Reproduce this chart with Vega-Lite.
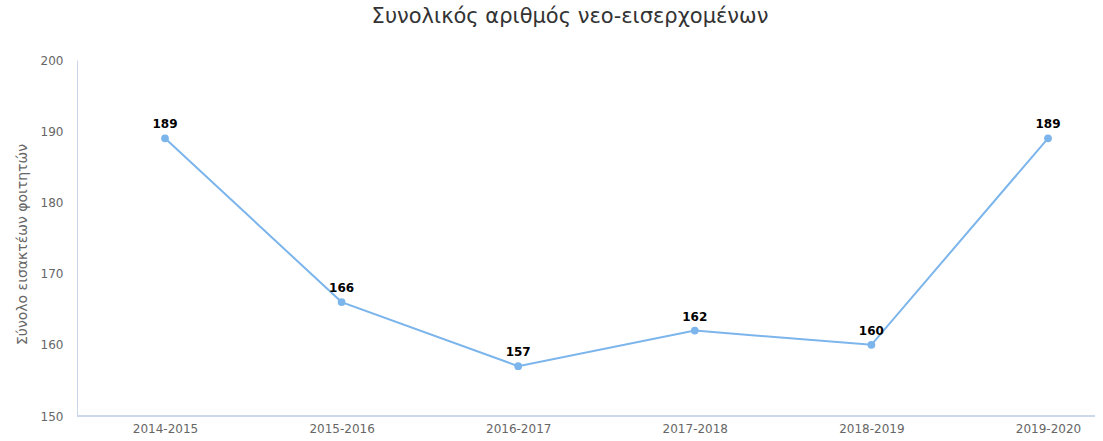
{
  "$schema": "https://vega.github.io/schema/vega-lite/v6.json",
  "width": 1018,
  "height": 356,
  "autosize": {"type": "none"},
  "padding": {"left": 77, "top": 60, "right": 8, "bottom": 25},
  "background": "white",
  "title": {
    "text": "Συνολικός αριθμός νεο-εισερχομένων",
    "font": "DejaVu Sans",
    "fontSize": 21,
    "fontWeight": "normal",
    "color": "#333333",
    "anchor": "middle",
    "dx": -16,
    "offset": 27
  },
  "config": {
    "view": {"stroke": null},
    "font": "DejaVu Sans"
  },
  "data": {
    "values": [
      {"year": "2014-2015", "value": 189},
      {"year": "2015-2016", "value": 166},
      {"year": "2016-2017", "value": 157},
      {"year": "2017-2018", "value": 162},
      {"year": "2018-2019", "value": 160},
      {"year": "2019-2020", "value": 189}
    ]
  },
  "encoding": {
    "x": {
      "field": "year",
      "type": "ordinal",
      "sort": null,
      "scale": {"type": "point", "range": [88, 971], "padding": 0},
      "axis": {
        "title": null,
        "labelAngle": 0,
        "ticks": false,
        "grid": false,
        "domain": false,
        "labelColor": "#666666",
        "labelFontSize": 12,
        "labelPadding": 7
      }
    },
    "y": {
      "field": "value",
      "type": "quantitative",
      "scale": {"domain": [150, 200], "nice": false, "zero": false},
      "axis": {
        "title": "Σύνολο εισακτέων φοιτητών",
        "titleFontWeight": "normal",
        "titleFontSize": 14,
        "titleColor": "#666666",
        "titlePadding": 11,
        "titleY": 184,
        "values": [150, 160, 170, 180, 190, 200],
        "ticks": false,
        "grid": false,
        "domainColor": "#ccd6eb",
        "labelColor": "#666666",
        "labelFontSize": 12,
        "labelPadding": 14
      }
    }
  },
  "layer": [
    {
      "mark": {"type": "rule", "color": "#ccd6eb", "strokeWidth": 1},
      "encoding": {"y": {"datum": 150}, "x": null}
    },
    {
      "mark": {"type": "line", "color": "#7cb5ec", "strokeWidth": 2}
    },
    {
      "mark": {"type": "point", "filled": true, "color": "#7cb5ec", "size": 60, "opacity": 1}
    },
    {
      "mark": {"type": "text", "dy": -14, "fontWeight": "bold", "fontSize": 12, "color": "#000000"},
      "encoding": {"text": {"field": "value", "type": "quantitative"}}
    }
  ]
}
